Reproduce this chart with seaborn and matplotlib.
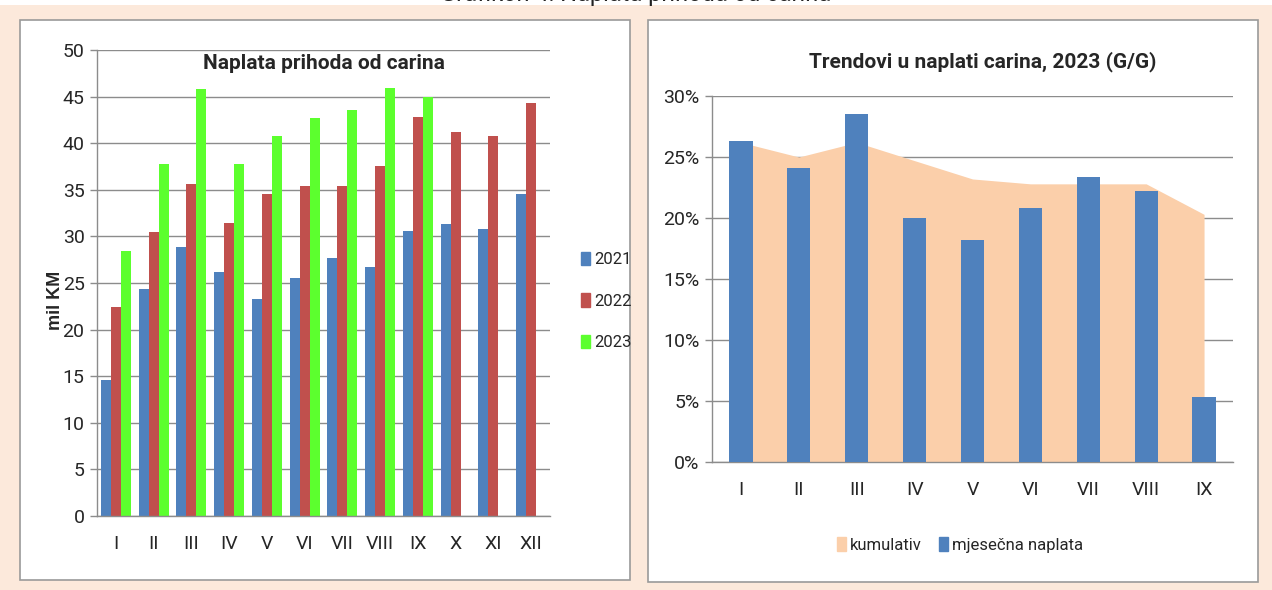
"""Naplata prihoda od carina: monthly collections and y/y trends."""
import matplotlib
matplotlib.use("Agg")
import matplotlib.pyplot as plt
from matplotlib.patches import Patch, Rectangle
import numpy as np
import pandas as pd
import seaborn as sns

MONTHS = ["I", "II", "III", "IV", "V", "VI", "VII", "VIII", "IX", "X", "XI", "XII"]
YEARS = ["2021", "2022", "2023"]
VAL_2021 = [14.6, 24.4, 28.9, 26.2, 23.3, 25.5, 27.7, 26.7, 30.6, 31.3, 30.8, 34.5]
VAL_2022 = [22.4, 30.5, 35.6, 31.4, 34.5, 35.4, 35.4, 37.6, 42.8, 41.2, 40.8, 44.3]
VAL_2023 = [28.4, 37.8, 45.8, 37.8, 40.8, 42.7, 43.6, 45.9, 45.0, None, None, None]

TREND_MONTHS = MONTHS[:9]
KUMULATIV = [26.2, 25.0, 26.2, 24.7, 23.2, 22.8, 22.8, 22.8, 20.3]
MJESECNA = [26.3, 24.1, 28.5, 20.0, 18.2, 20.8, 23.4, 22.2, 5.3]

PALETTE = {"2021": "#4F81BD", "2022": "#C0504D", "2023": "#5CFF2E"}
BAR_BLUE = "#4F81BD"
AREA = "#FBCFAA"
BG = "#FCE9DB"
GRID = "#8C8C8C"
FONT = ["Roboto", "DejaVu Sans"]

W, H = 1272, 590

sns.set_style("white")
plt.rcParams["font.family"] = FONT

fig = plt.figure(figsize=(W / 100, H / 100), dpi=100)
fig.patch.set_facecolor(BG)


def fx(px):
    return px / W


def fy(py):
    return 1 - py / H


# white strip at the top with the caption, cut off as in the source
fig.patches.append(Rectangle((0, fy(5)), 1, 5 / H, transform=fig.transFigure,
                             facecolor="white", edgecolor="none", zorder=-2))
fig.text(0.5, fy(0.5), "Grafikon 4: Naplata prihoda od carina", ha="center",
         va="baseline", fontsize=17, color="#222222")

# panel boxes
for x0, x1, y0, y1 in [(20, 630, 20, 580), (648, 1258, 20, 582)]:
    fig.patches.append(Rectangle((fx(x0), fy(y1)), fx(x1 - x0), (y1 - y0) / H,
                                 transform=fig.transFigure, facecolor="white",
                                 edgecolor="#9A9A9A", linewidth=1.2, zorder=-1))


def style_axis(ax, n):
    ax.set_facecolor("none")
    for s in ["top", "right"]:
        ax.spines[s].set_visible(False)
    for s in ["left", "bottom"]:
        ax.spines[s].set_color(GRID)
        ax.spines[s].set_linewidth(1.0)
    ax.yaxis.grid(True, color=GRID, linewidth=1.0)
    ax.set_axisbelow(True)
    ax.set_xlim(-0.5, n - 0.5)
    ax.set_xticks(np.arange(-0.5, n, 1.0), minor=True)
    ax.tick_params(axis="x", which="major", length=0, pad=14, labelsize=14)
    ax.tick_params(axis="x", which="minor", length=9, color=GRID, width=1.0)
    ax.tick_params(axis="y", which="major", length=5, color=GRID, width=1.0,
                   labelsize=14, pad=4, left=True)
    ax.set_xlabel("")
    ax.set_ylabel("")


# left chart: monthly customs revenue
df = pd.DataFrame({
    "mjesec": MONTHS * 3,
    "godina": [y for y in YEARS for _ in MONTHS],
    "vrijednost": VAL_2021 + VAL_2022 + VAL_2023,
}).dropna()

ax1 = fig.add_axes([fx(97), fy(516), fx(550 - 97), (516 - 50) / H])
sns.barplot(data=df, x="mjesec", y="vrijednost", hue="godina", order=MONTHS,
            hue_order=YEARS, palette=PALETTE, saturation=1, width=0.8,
            errorbar=None, edgecolor="none", linewidth=0, ax=ax1)
style_axis(ax1, len(MONTHS))
ax1.set_ylim(0, 50)
ax1.set_yticks(range(0, 51, 5))
ax1.text(0.5, 0.972, "Naplata prihoda od carina", transform=ax1.transAxes,
         ha="center", va="center", fontsize=15, fontweight="bold")
ax1.legend(handles=[Patch(color=PALETTE[y], label=y) for y in YEARS],
           loc="center left", bbox_to_anchor=(fx(566), fy(301)),
           bbox_transform=fig.transFigure, frameon=False, fontsize=12,
           handlelength=0.55, handleheight=0.9, handletextpad=0.25,
           labelspacing=1.55)
fig.text(fx(55), fy(300), "mil KM", rotation=90, ha="center", va="center",
         fontsize=13, fontweight="bold", family=["Liberation Sans", "DejaVu Sans"])

# right chart: y/y trends 2023
ax2 = fig.add_axes([fx(712), fy(462), fx(1233 - 712), (462 - 96) / H])
pos = np.arange(len(TREND_MONTHS))
ax2.fill_between(pos, 0, KUMULATIV, color=AREA, linewidth=0, zorder=2)
sns.barplot(x=TREND_MONTHS, y=MJESECNA, color=BAR_BLUE, saturation=1,
            width=0.4, errorbar=None, edgecolor="none", linewidth=0,
            zorder=3, ax=ax2)
style_axis(ax2, len(TREND_MONTHS))
ax2.set_ylim(0, 30)
ax2.set_yticks(range(0, 31, 5))
ax2.set_yticklabels([f"{v}%" for v in range(0, 31, 5)])
fig.text(fx(983), fy(62), "Trendovi u naplati carina, 2023 (G/G)", ha="center",
         va="center", fontsize=15, fontweight="bold")
ax2.legend(handles=[Patch(color=AREA, label="kumulativ"),
                    Patch(color=BAR_BLUE, label="mjesečna naplata")],
           loc="center", bbox_to_anchor=(fx(960), fy(545)),
           bbox_transform=fig.transFigure, ncol=2, frameon=False, fontsize=12,
           handlelength=0.55, handleheight=0.9, handletextpad=0.25,
           columnspacing=1.0)

fig.savefig("out.png", dpi=100, facecolor=fig.get_facecolor())
plt.close(fig)
